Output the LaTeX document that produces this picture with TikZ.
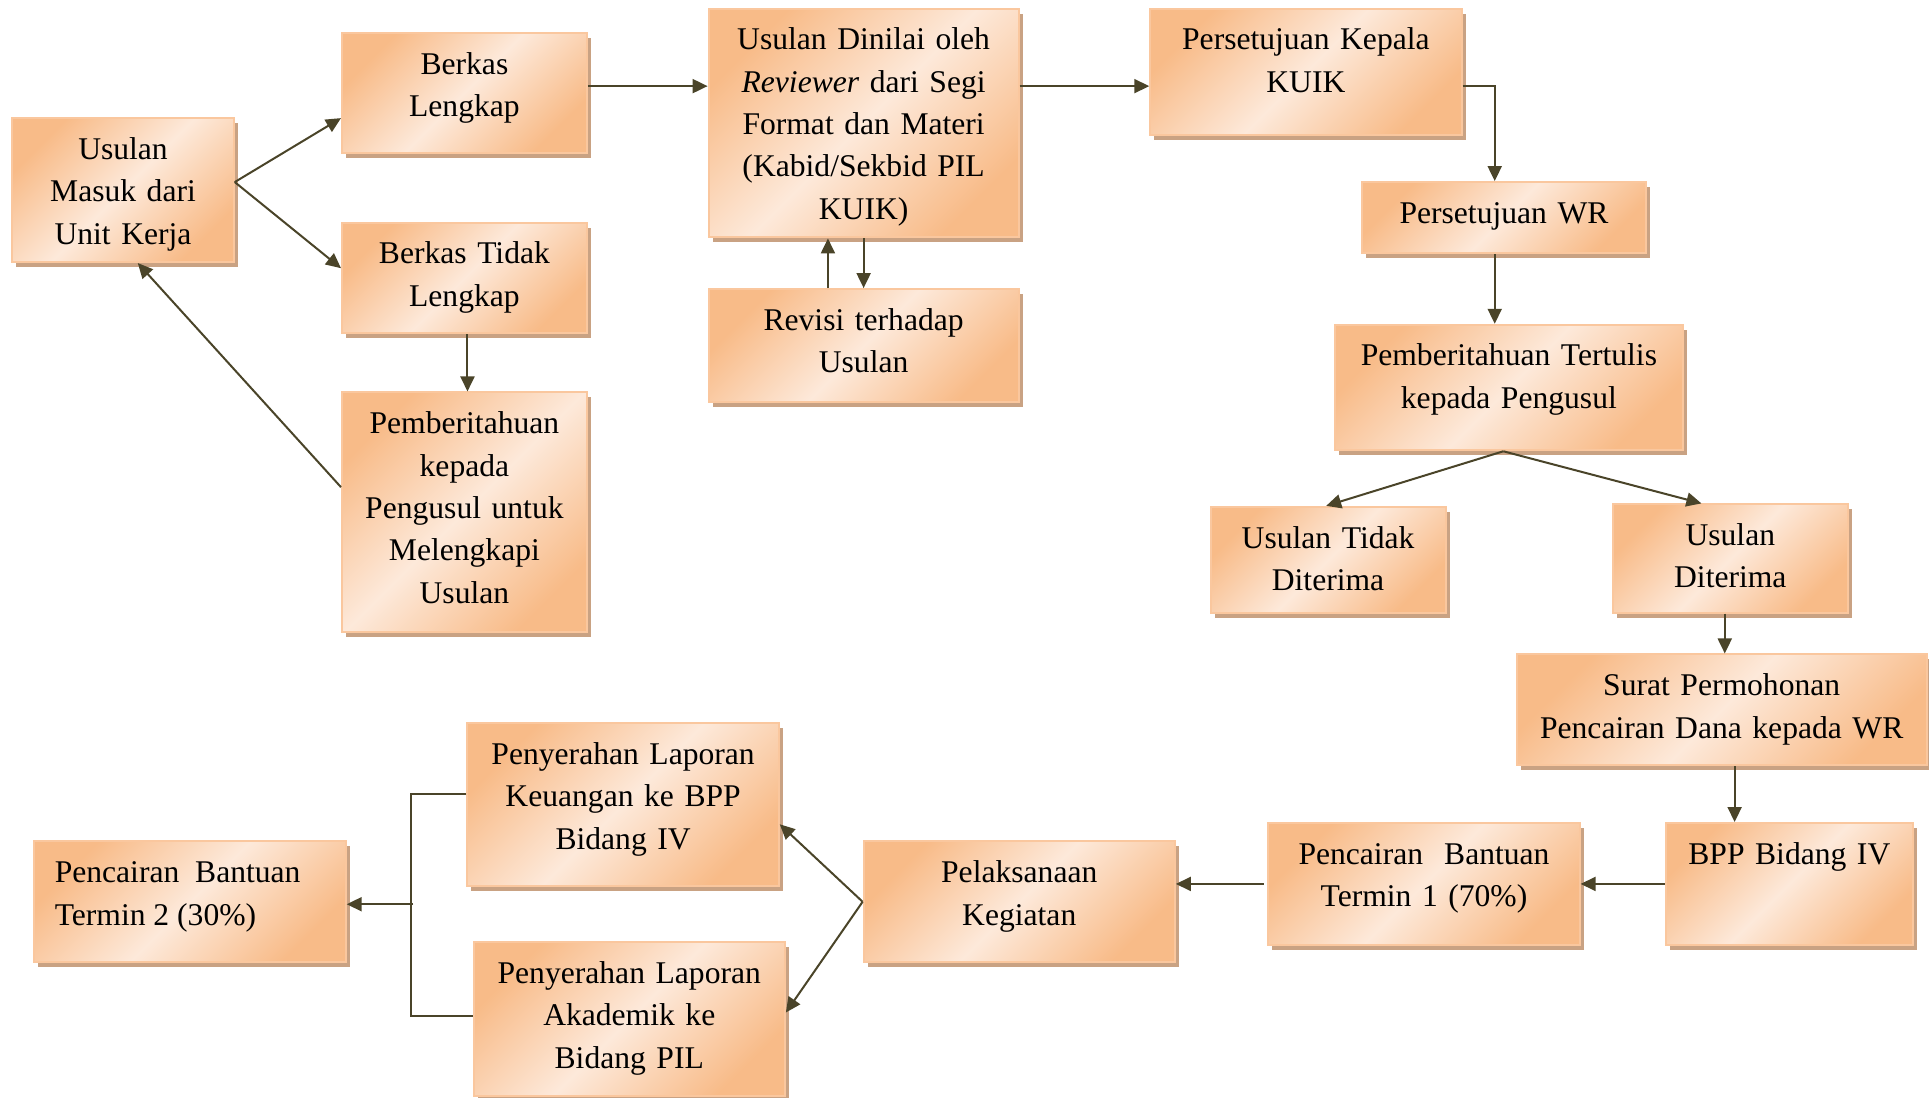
\documentclass[tikz,border=0pt]{standalone}
\usepackage{fontspec}
\setmainfont{Liberation Serif}
\usetikzlibrary{arrows.meta,calc,fit,shadows}
\definecolor{orng}{HTML}{F8BB88}
\definecolor{lite}{HTML}{FDE9DA}
\definecolor{bord}{HTML}{FAC79E}
\definecolor{shad}{HTML}{C9A283}
\definecolor{arrc}{HTML}{4A4429}
\tikzset{
 boxst/.style={draw=bord, line width=1pt, top color=orng, bottom color=orng, middle color=lite, shading angle=45, inner sep=0pt,
   general shadow={fill=shad, shadow xshift=2pt, shadow yshift=-2.5pt}},
 txt/.style={font=\fontsize{15.8}{21.2}\selectfont, inner sep=0pt},
 arr/.style={draw=arrc, line width=1pt, -{Triangle[length=7.5pt,width=7pt]}},
 ln/.style={draw=arrc, line width=1pt},
}
\newcommand\mkbox[6]{%
  \node[boxst, fit={(#2,#3)(#4,#5)}] (#1) {};
  \pgfmathsetmacro\mytw{(#4-#2)*0.615-8}
  \node[txt, text width=\mytw pt, align=center, anchor=north] (#1t) at ($(#1.north)+(0,9.8)$) {\strut #6};
}
\begin{document}
\begin{tikzpicture}[x=0.615pt,y=-0.615pt]
\useasboundingbox (0,0) rectangle (1568,892);
\mkbox{A}{10}{96}{190}{213}{Usulan\\Masuk dari\\Unit Kerja}
\mkbox{B}{278}{27}{477}{124}{Berkas\\Lengkap}
\mkbox{C}{278}{181}{477}{271}{Berkas Tidak\\Lengkap}
\mkbox{D}{278}{319}{477}{514}{Pemberitahuan\\kepada\\Pengusul untuk\\Melengkapi\\Usulan}
\mkbox{E}{576}{7}{828}{193}{Usulan Dinilai oleh\\\textit{Reviewer} dari Segi\\Format dan Materi\\(Kabid/Sekbid PIL\\KUIK)}
\mkbox{F}{576}{235}{828}{327}{Revisi terhadap\\Usulan}
\mkbox{G}{935}{7}{1188}{110}{Persetujuan Kepala\\KUIK}
\mkbox{H}{1107}{148}{1338}{206}{Persetujuan WR}
\mkbox{I}{1085}{264}{1368}{366}{Pemberitahuan Tertulis\\kepada Pengusul}
\mkbox{J}{984}{412}{1175}{498}{Usulan Tidak\\Diterima}
\mkbox{K}{1311}{410}{1502}{498}{Usulan\\Diterima}
\mkbox{L}{1233}{532}{1566}{622}{Surat Permohonan\\Pencairan Dana kepada WR}
\mkbox{M}{1354}{669}{1555}{768}{BPP Bidang IV}
\mkbox{N}{1031}{669}{1284}{768}{Pencairan\ \ Bantuan\\Termin 1 (70\%)}
\mkbox{O}{702}{684}{955}{782}{Pelaksanaan\\Kegiatan}
\mkbox{P}{380}{588}{633}{720}{Penyerahan Laporan\\Keuangan ke BPP\\Bidang IV}
\mkbox{Q}{385}{766}{638}{891}{Penyerahan Laporan\\Akademik ke\\Bidang PIL}
\node[boxst, fit={(28,684)(281,782)}] (R) {};
\node[txt, align=left, anchor=north west] (Rt) at ($(R.north west)+(17,9.8)$) {\strut Pencairan\ \ Bantuan\\Termin 2 (30\%)};
% connectors
\draw[arr] ($(A.east)+(0,-6.5)$) -- ($(B.west)+(0,20.5)$);
\draw[arr] ($(A.east)+(0,-6.5)$) -- ($(C.west)+(0,-8)$);
\draw[arr] ($(B.east)+(0,-5.5)$) coordinate (b1) -- (b1 -| E.west);
\draw[arr] ($(E.east)+(0,-30)$) coordinate (e1) -- (e1 -| G.west);
\draw[arr] ($(G.east)+(0,11.5)$) -| ($(H.north)+(-7.5,0)$);
\draw[arr] ($(H.south)+(-7.5,0)$) coordinate (h1) -- (h1 |- I.north);
\draw[arr] ($(I.south)+(-4.5,0)$) -- ($(J.north)+(-1.5,0)$);
\draw[arr] ($(I.south)+(-4.5,0)$) -- ($(K.north)+(-23.5,0)$);
\draw[arr] ($(K.south)+(-4.5,0)$) coordinate (k1) -- (k1 |- L.north);
\draw[arr] ($(L.south)+(10.5,0)$) coordinate (l1) -- (l1 |- M.north);
\draw[arr] (M.west) -- (N.east);
\draw[arr] ($(N.west)+(-3,0)$) coordinate (n1) -- (n1 -| O.east);
\draw[arr] (O.west) -- ($(P.east)+(0,16)$);
\draw[arr] (O.west) -- ($(Q.east)+(0,-5.5)$);
\coordinate (jt) at ($(P.west)+(-45,-9)$);
\draw[ln] ($(P.west)+(0,-9)$) -- (jt) |- ($(Q.west)+(0,-2.5)$);
\coordinate (jm) at ($(R.east)+(54,2)$);
\draw[arr] (jm) -- ($(R.east)+(0,2)$);
\draw[arr] ($(C.south)+(2.5,0)$) coordinate (c1) -- (c1 |- D.north);
\draw[arr] ($(D.west)+(0,-20.5)$) -- ($(A.south)+(12,0)$);
\draw[arr] (E.south) -- (F.north);
\draw[arr] ($(F.north)+(-29,0)$) coordinate (f1) -- (f1 |- E.south);
\end{tikzpicture}
\end{document}
